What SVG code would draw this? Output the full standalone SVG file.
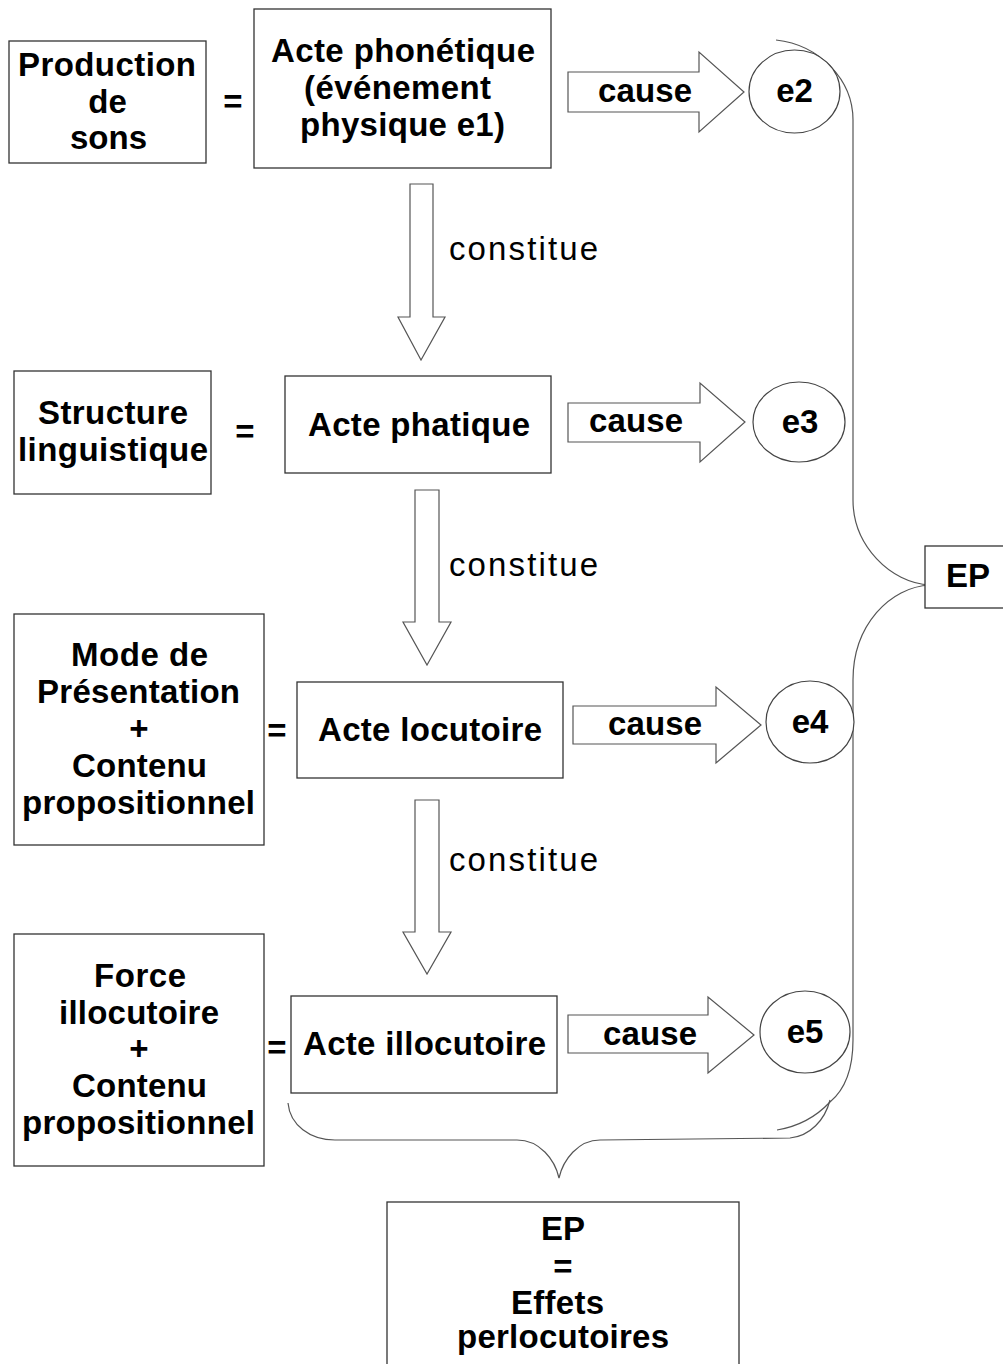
<svg xmlns="http://www.w3.org/2000/svg" width="1003" height="1364" viewBox="0 0 1003 1364">
<style>
.bx{fill:#fff;stroke:#333;stroke-width:1.3}
.ar{fill:#fff;stroke:#555;stroke-width:1.2}
.el{fill:#fff;stroke:#444;stroke-width:1.2}
.br{fill:none;stroke:#555;stroke-width:1.2}
.t{font-family:"Liberation Sans",Arial,sans-serif;font-weight:bold;font-size:33px;fill:#000;text-anchor:middle}
.r{font-family:"Liberation Sans",Arial,sans-serif;font-weight:normal;font-size:33px;fill:#000}
</style>
<rect width="1003" height="1364" fill="#fff"/>

<g id="connectors">
  <path class="br" d="M776,40 C820,45 853,80 853,120 L853,500 C853,545 890,583 930,585 C890,587 853,625 853,680 L853,1040 C853,1075 842,1092 830,1102 C815,1118 795,1127 777,1130"/>
  <path class="br" d="M288,1103 C290,1125 310,1140 335,1140 L517,1140 C540,1140 555,1160 559,1178 C563,1160 578,1140 600,1140 L790,1138 C810,1136 825,1120 830,1100"/>
  <g id="cause1"><polygon class="ar" points="568,72 699,72 699,52 744,92 699,132 699,112 568,112"/><text class="t" x="645" y="102" textLength="94" lengthAdjust="spacing">cause</text></g>
  <g id="cause2"><polygon class="ar" points="568,403 700,403 700,383 745,422 700,462 700,442 568,442"/><text class="t" x="636" y="432" textLength="94" lengthAdjust="spacing">cause</text></g>
  <g id="cause3"><polygon class="ar" points="573,706 716,706 716,687 761,725 716,763 716,744 573,744"/><text class="t" x="655" y="735" textLength="94" lengthAdjust="spacing">cause</text></g>
  <g id="cause4"><polygon class="ar" points="568,1015 708,1015 708,997 754,1035 708,1073 708,1053 568,1053"/><text class="t" x="650" y="1045" textLength="94" lengthAdjust="spacing">cause</text></g>
  <g id="constitue1"><polygon class="ar" points="410,184 433,184 433,317 445,317 421,360 398,317 410,317"/><text class="r" x="449" y="260" textLength="149" lengthAdjust="spacing">constitue</text></g>
  <g id="constitue2"><polygon class="ar" points="415,490 439,490 439,622 451,622 427,665 403,622 415,622"/><text class="r" x="449" y="576" textLength="149" lengthAdjust="spacing">constitue</text></g>
  <g id="constitue3"><polygon class="ar" points="415,800 439,800 439,932 451,932 427,974 403,932 415,932"/><text class="r" x="449" y="871" textLength="149" lengthAdjust="spacing">constitue</text></g>
</g>

<g id="production">
  <rect class="bx" x="9" y="41" width="197" height="122"/>
  <text class="t" x="107" y="76" textLength="178" lengthAdjust="spacing">Production</text>
  <text class="t" x="107.5" y="112.5">de</text>
  <text class="t" x="108.5" y="149" textLength="77" lengthAdjust="spacing">sons</text>
</g>
<text class="t" x="233" y="113">=</text>
<g id="phonetique">
  <rect class="bx" x="254" y="9" width="297" height="159"/>
  <text class="t" x="403" y="62" textLength="264" lengthAdjust="spacing">Acte phonétique</text>
  <text class="t" x="397.5" y="99" textLength="187" lengthAdjust="spacing">(événement</text>
  <text class="t" x="402.5" y="136" textLength="205" lengthAdjust="spacing">physique e1)</text>
</g>
<g id="e2"><ellipse class="el" cx="794.5" cy="91.5" rx="45.5" ry="41.5"/><text class="t" x="794.5" y="102">e2</text></g>

<g id="structure">
  <rect class="bx" x="14" y="371" width="197" height="123"/>
  <text class="t" x="113" y="424" textLength="150" lengthAdjust="spacing">Structure</text>
  <text class="t" x="113" y="461" textLength="190" lengthAdjust="spacing">linguistique</text>
</g>
<text class="t" x="245" y="443">=</text>
<g id="phatique">
  <rect class="bx" x="285" y="376" width="266" height="97"/>
  <text class="t" x="419" y="436" textLength="222" lengthAdjust="spacing">Acte phatique</text>
</g>
<g id="e3"><ellipse class="el" cx="799" cy="422" rx="46" ry="40"/><text class="t" x="800" y="433">e3</text></g>

<g id="mode">
  <rect class="bx" x="14" y="614" width="250" height="231"/>
  <text class="t" x="139.5" y="666" textLength="137" lengthAdjust="spacing">Mode de</text>
  <text class="t" x="138.5" y="703" textLength="203" lengthAdjust="spacing">Présentation</text>
  <text class="t" x="139" y="740">+</text>
  <text class="t" x="139.5" y="777" textLength="135" lengthAdjust="spacing">Contenu</text>
  <text class="t" x="138.5" y="814" textLength="233" lengthAdjust="spacing">propositionnel</text>
</g>
<text class="t" x="277" y="742">=</text>
<g id="locutoire">
  <rect class="bx" x="297" y="682" width="266" height="96"/>
  <text class="t" x="430" y="741" textLength="224" lengthAdjust="spacing">Acte locutoire</text>
</g>
<g id="e4"><ellipse class="el" cx="810" cy="722" rx="44" ry="41"/><text class="t" x="810" y="733">e4</text></g>

<g id="force">
  <rect class="bx" x="14" y="934" width="250" height="232"/>
  <text class="t" x="140" y="987" textLength="92" lengthAdjust="spacing">Force</text>
  <text class="t" x="139" y="1024" textLength="160" lengthAdjust="spacing">illocutoire</text>
  <text class="t" x="139" y="1060">+</text>
  <text class="t" x="139.5" y="1097" textLength="135" lengthAdjust="spacing">Contenu</text>
  <text class="t" x="138.5" y="1134" textLength="233" lengthAdjust="spacing">propositionnel</text>
</g>
<text class="t" x="277" y="1059">=</text>
<g id="illocutoire">
  <rect class="bx" x="291" y="996" width="266" height="97"/>
  <text class="t" x="424.5" y="1055" textLength="243" lengthAdjust="spacing">Acte illocutoire</text>
</g>
<g id="e5"><ellipse class="el" cx="805" cy="1032" rx="45" ry="41"/><text class="t" x="805" y="1043">e5</text></g>

<g id="ep-right">
  <rect class="bx" x="925" y="546" width="90" height="62"/>
  <text class="t" x="968" y="587">EP</text>
</g>
<g id="ep-bottom">
  <rect class="bx" x="387" y="1202" width="352" height="175"/>
  <text class="t" x="563" y="1240">EP</text>
  <text class="t" x="563" y="1278">=</text>
  <text class="t" x="557.5" y="1314" textLength="93" lengthAdjust="spacing">Effets</text>
  <text class="t" x="563" y="1348" textLength="212" lengthAdjust="spacing">perlocutoires</text>
</g>
</svg>
